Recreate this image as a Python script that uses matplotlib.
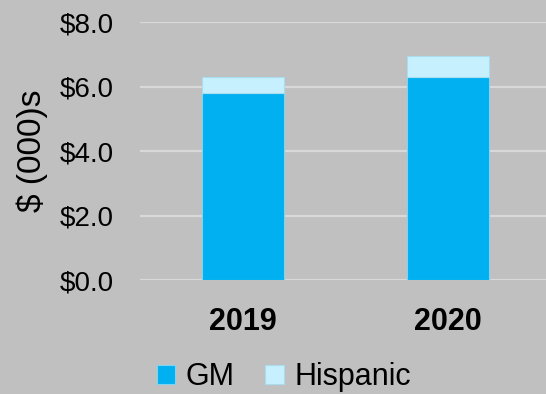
import matplotlib
matplotlib.use("Agg")
import matplotlib.pyplot as plt
import numpy as np

years = ["2019", "2020"]
gm = [5.80, 6.30]
hispanic = [0.49, 0.65]
y_ticks = [0, 2, 4, 6, 8]

GM_COLOR = "#00B0F0"
HISP_COLOR = "#C7F0FF"
BG = "#C0C0C0"

plt.rcParams["font.family"] = ["Liberation Sans", "DejaVu Sans"]

fig = plt.figure(figsize=(5.46, 3.94), dpi=100, facecolor=BG)
ax = fig.add_axes([0.257, 0.289, 0.751, 0.655], facecolor=BG)

x = np.arange(len(years))
ax.bar(x, gm, width=0.4, color=GM_COLOR, edgecolor="#7FD3F2", linewidth=0.8,
       label="GM", zorder=3)
ax.bar(x, hispanic, width=0.4, bottom=gm, color=HISP_COLOR, edgecolor="#A9DDEE",
       linewidth=0.8, label="Hispanic", zorder=3)

ax.set_xlim(-0.5, 1.5)
ax.set_ylim(0, 8)
ax.set_yticks(y_ticks)
ax.set_yticklabels([f"${v:.1f}" for v in y_ticks], fontsize=20)
ax.set_xticks(x)
ax.set_xticklabels(years, fontsize=22, fontweight="bold")
ax.tick_params(axis="both", length=0)
ax.tick_params(axis="y", pad=19)
ax.tick_params(axis="x", pad=19)
ax.grid(axis="y", color="#D9D9D9", linewidth=1.6, zorder=0)
ax.set_axisbelow(True)
for s in ax.spines.values():
    s.set_visible(False)

ax.set_ylabel("$ (000)s", fontsize=24)
ax.yaxis.set_label_coords(-0.225, 0.5)

fig.legend(loc="lower center", bbox_to_anchor=(0.52, -0.065), ncol=2, frameon=False,
           fontsize=22, handlelength=0.6, handleheight=0.6, handletextpad=0.35,
           columnspacing=1.0)

fig.savefig("out.png", dpi=100, facecolor=BG)
